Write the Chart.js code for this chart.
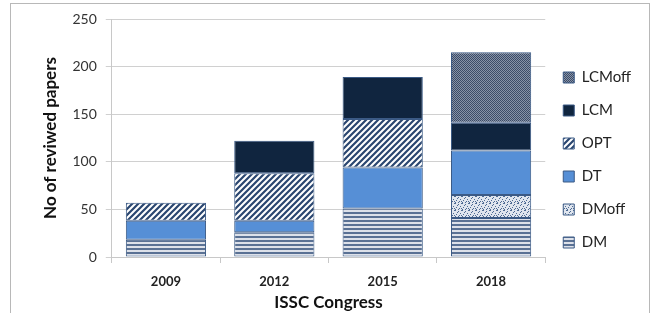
<!DOCTYPE html>
<html>
<head>
<meta charset="utf-8">
<script src="https://cdn.jsdelivr.net/npm/chart.js@4.4.0/dist/chart.umd.min.js"></script>
<style>
    html, body { margin: 0; padding: 0; background: #fff; }
    #wrap { position: relative; width: 653px; height: 313px; overflow: hidden; }
    #frame { position: absolute; left: 10px; top: 3px; width: 638px; height: 330px; border: 1px solid #b8b8b8; }
    #wrap canvas { position: absolute; left: 0; top: 0; }
</style>
</head>
<body>
<div id="wrap">
    <div id="frame"></div>
    <canvas id="chart" width="653" height="313"></canvas>
</div>
<script>
var congresses = ['2009', '2012', '2015', '2018'];
var dm     = [18, 26, 51, 41];
var dmoff  = [0, 0, 0, 24];
var dt     = [20, 12, 43, 47];
var opt    = [19, 50, 51, 0];
var lcm    = [0, 34, 44, 29];
var lcmoff = [0, 0, 0, 74];
var yTicks = [0, 50, 100, 150, 200, 250];

// small tiles for the hatch fills
function tile(w, h, paint){
    var c = document.createElement('canvas');
    c.width = w; c.height = h;
    var g = c.getContext('2d');
    paint(g, w, h);
    return g.createPattern(c, 'repeat');
}

var dmFill = tile(4, 4, function(g, w, h){
    g.fillStyle = '#dde1e9'; g.fillRect(0, 0, w, h);
    g.fillStyle = '#5a7194'; g.fillRect(0, 0, w, 2);
});

var dmoffDots = [[0,0],[3,1],[5,3],[1,4],[4,5],[2,2],[0,6],[6,0],[3,6],[6,5]];
var dmoffFill = tile(7, 7, function(g, w, h){
    g.fillStyle = '#dfe5ee'; g.fillRect(0, 0, w, h);
    g.fillStyle = '#4d6a93';
    dmoffDots.forEach(function(p){ g.fillRect(p[0], p[1], 1, 1); });
});

var optFill = tile(6, 6, function(g, w, h){
    g.fillStyle = '#ffffff'; g.fillRect(0, 0, w, h);
    g.strokeStyle = '#2a4670'; g.lineWidth = 2.2;
    g.beginPath();
    g.moveTo(-1, 7); g.lineTo(7, -1);
    g.moveTo(-4, 4); g.lineTo(4, -4);
    g.moveTo(2, 10); g.lineTo(10, 2);
    g.stroke();
});

var lcmoffFill = tile(2, 2, function(g, w, h){
    g.fillStyle = '#8792a6'; g.fillRect(0, 0, w, h);
    g.fillStyle = '#3a4b67'; g.fillRect(0, 0, 1, 1); g.fillRect(1, 1, 1, 1);
});

function series(label, data, fill){
    return {
        label: label,
        data: data,
        backgroundColor: fill,
        borderColor: '#3b5a85',
        borderWidth: 1,
        borderSkipped: false,
        barPercentage: 0.74,
        categoryPercentage: 1
    };
}

// legend sits a little higher than the centred spot in the original
var legendNudge = {
    id: 'legendNudge',
    afterLayout: function(chart){
        chart.legend.top -= 6;
        chart.legend.bottom -= 6;
    }
};

var font = 'Lato, "Open Sans", sans-serif';

new Chart(document.getElementById('chart').getContext('2d'), {
    type: 'bar',
    data: {
        labels: congresses,
        datasets: [
            series('DM', dm, dmFill),
            series('DMoff', dmoff, dmoffFill),
            series('DT', dt, '#568fd6'),
            series('OPT', opt, optFill),
            series('LCM', lcm, '#10253f'),
            series('LCMoff', lcmoff, lcmoffFill)
        ]
    },
    plugins: [legendNudge],
    options: {
        responsive: false,
        animation: false,
        layout: { padding: { left: 36, right: 12, top: 19, bottom: 0 } },
        plugins: {
            tooltip: { enabled: false },
            legend: {
                position: 'right',
                reverse: true,
                labels: {
                    color: '#222',
                    font: { family: font, size: 15 },
                    boxWidth: 11,
                    boxHeight: 11,
                    padding: 18
                }
            }
        },
        scales: {
            x: {
                stacked: true,
                grid: { offset: true, drawOnChartArea: false, color: '#c8c8c8', tickLength: 6 },
                border: { color: '#c8c8c8' },
                ticks: { color: '#222', font: { family: font, size: 13, weight: 'bold' }, padding: 11 },
                title: { display: true, text: 'ISSC Congress', color: '#111', font: { family: font, size: 17, weight: 'bold' }, padding: { top: -8, bottom: 0 } }
            },
            y: {
                stacked: true,
                min: 0,
                max: 250,
                afterBuildTicks: function(axis){ axis.ticks = yTicks.map(function(v){ return { value: v }; }); },
                grid: { color: '#d0d0d0', tickLength: 6 },
                border: { color: '#c8c8c8' },
                ticks: { color: '#333', font: { family: font, size: 14 }, padding: 9 },
                title: { display: true, text: 'No of reviwed papers', color: '#111', font: { family: font, size: 17, weight: 'bold' }, padding: { bottom: 3 } }
            }
        }
    }
});
</script>
</body>
</html>
